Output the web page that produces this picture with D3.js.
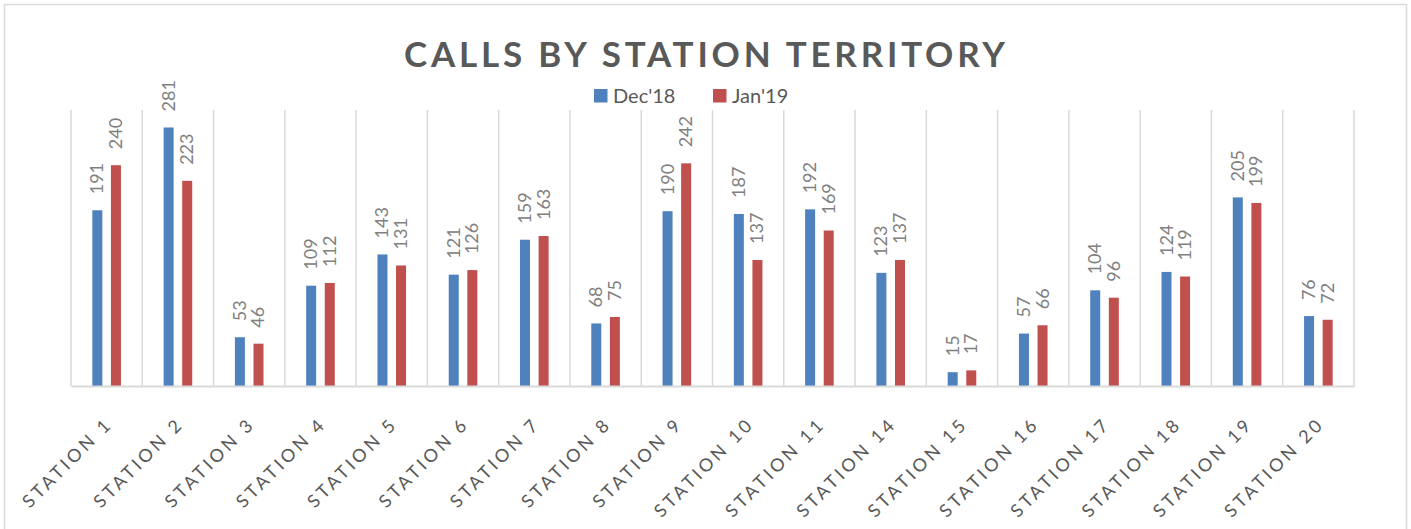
<!DOCTYPE html>
<html>
<head>
<meta charset="utf-8"/>
<title>Calls by station territory</title>
<script src="https://cdn.jsdelivr.net/npm/d3@7"></script>
<style>
  body { margin: 0; background: #fff; }
  svg text { font-family: Lato, "Open Sans", sans-serif; }
</style>
</head>
<body>
<div id="chart"></div>
<script>
// data
var categories = ["STATION 1", "STATION 2", "STATION 3", "STATION 4", "STATION 5", "STATION 6",
                  "STATION 7", "STATION 8", "STATION 9", "STATION 10", "STATION 11", "STATION 14",
                  "STATION 15", "STATION 16", "STATION 17", "STATION 18", "STATION 19", "STATION 20"];
var seriesNames = ["Dec'18", "Jan'19"];
var dec18 = [191, 281, 53, 109, 143, 121, 159, 68, 190, 187, 192, 123, 15, 57, 104, 124, 205, 76];
var jan19 = [240, 223, 46, 112, 131, 126, 163, 75, 242, 137, 169, 137, 17, 66, 96, 119, 199, 72];
var colors = ["#4f81bd", "#c0504d"];

var W = 1411, H = 529;
var svg = d3.select("#chart").append("svg").attr("width", W).attr("height", H);

// chart border
svg.append("rect")
  .attr("x", 4.5).attr("y", 4.5).attr("width", 1402).attr("height", 540)
  .attr("fill", "#fff").attr("stroke", "#d9d9d9").attr("stroke-width", 1.5);

// title
svg.append("text")
  .attr("x", 404).attr("y", 67)
  .attr("textLength", 601).attr("lengthAdjust", "spacing")
  .style("font-size", "35px").style("font-weight", "bold").attr("fill", "#595959")
  .text("CALLS BY STATION TERRITORY");

// legend
var legendX = [594, 713];
var lg = svg.selectAll(".lg").data(seriesNames).enter().append("g")
  .attr("class", "lg")
  .attr("transform", function(d, i) { return "translate(" + legendX[i] + ",89)"; });
lg.append("rect").attr("width", 13.5).attr("height", 13.5).attr("fill", function(d, i) { return colors[i]; });
lg.append("text").attr("x", 19).attr("y", 13.5)
  .style("font-size", "20px").attr("fill", "#595959")
  .text(function(d) { return d; });

// scales
var x = d3.scaleBand().domain(categories).range([71, 1354]);
var c = x.bandwidth() / 2;
var xs = d3.scaleBand().domain(seriesNames).range([c - 14.3, c + 14.3]).paddingInner(0.462);
var y = d3.scaleLinear().domain([0, 300]).range([386, 110]);

// vertical gridlines between categories
var edges = categories.map(function(d) { return x(d); }).concat([x.range()[1]]);
svg.selectAll(".grid").data(edges).enter().append("line")
  .attr("x1", function(d) { return d; }).attr("x2", function(d) { return d; })
  .attr("y1", y(300)).attr("y2", y(0))
  .attr("stroke", "#d9d9d9").attr("stroke-width", 1.5);

// bars
var rows = categories.map(function(cat, i) {
  return { cat: cat, vals: [{ s: seriesNames[0], v: dec18[i], k: 0 }, { s: seriesNames[1], v: jan19[i], k: 1 }] };
});
var grp = svg.selectAll(".cat").data(rows).enter().append("g")
  .attr("transform", function(d) { return "translate(" + x(d.cat) + ",0)"; });

grp.selectAll("rect").data(function(d) { return d.vals; }).enter().append("rect")
  .attr("x", function(d) { return xs(d.s); })
  .attr("width", xs.bandwidth())
  .attr("y", function(d) { return y(d.v); })
  .attr("height", function(d) { return y(0) - y(d.v); })
  .attr("fill", function(d) { return colors[d.k]; });

// data labels, rotated
grp.selectAll("text").data(function(d) { return d.vals; }).enter().append("text")
  .attr("transform", function(d) {
    return "translate(" + (xs(d.s) + xs.bandwidth() / 2 + 6) + "," + (y(d.v) - 16) + ") rotate(-90)";
  })
  .style("font-size", "18px").attr("fill", "#808080")
  .text(function(d) { return d.v; });

// x axis
var ax = svg.append("g").attr("transform", "translate(0," + y(0) + ")")
  .call(d3.axisBottom(x).tickSize(0).tickPadding(0));
ax.select(".domain").attr("stroke", "#d9d9d9").attr("stroke-width", 2);
ax.selectAll(".tick text")
  .attr("text-anchor", "end")
  .attr("transform", "translate(7,39) rotate(-45)")
  .attr("dy", 0)
  .attr("y", 0)
  .style("font-size", "18px").style("font-family", "Lato, sans-serif")
  .style("letter-spacing", "3.3px")
  .attr("fill", "#595959");
</script>
</body>
</html>
